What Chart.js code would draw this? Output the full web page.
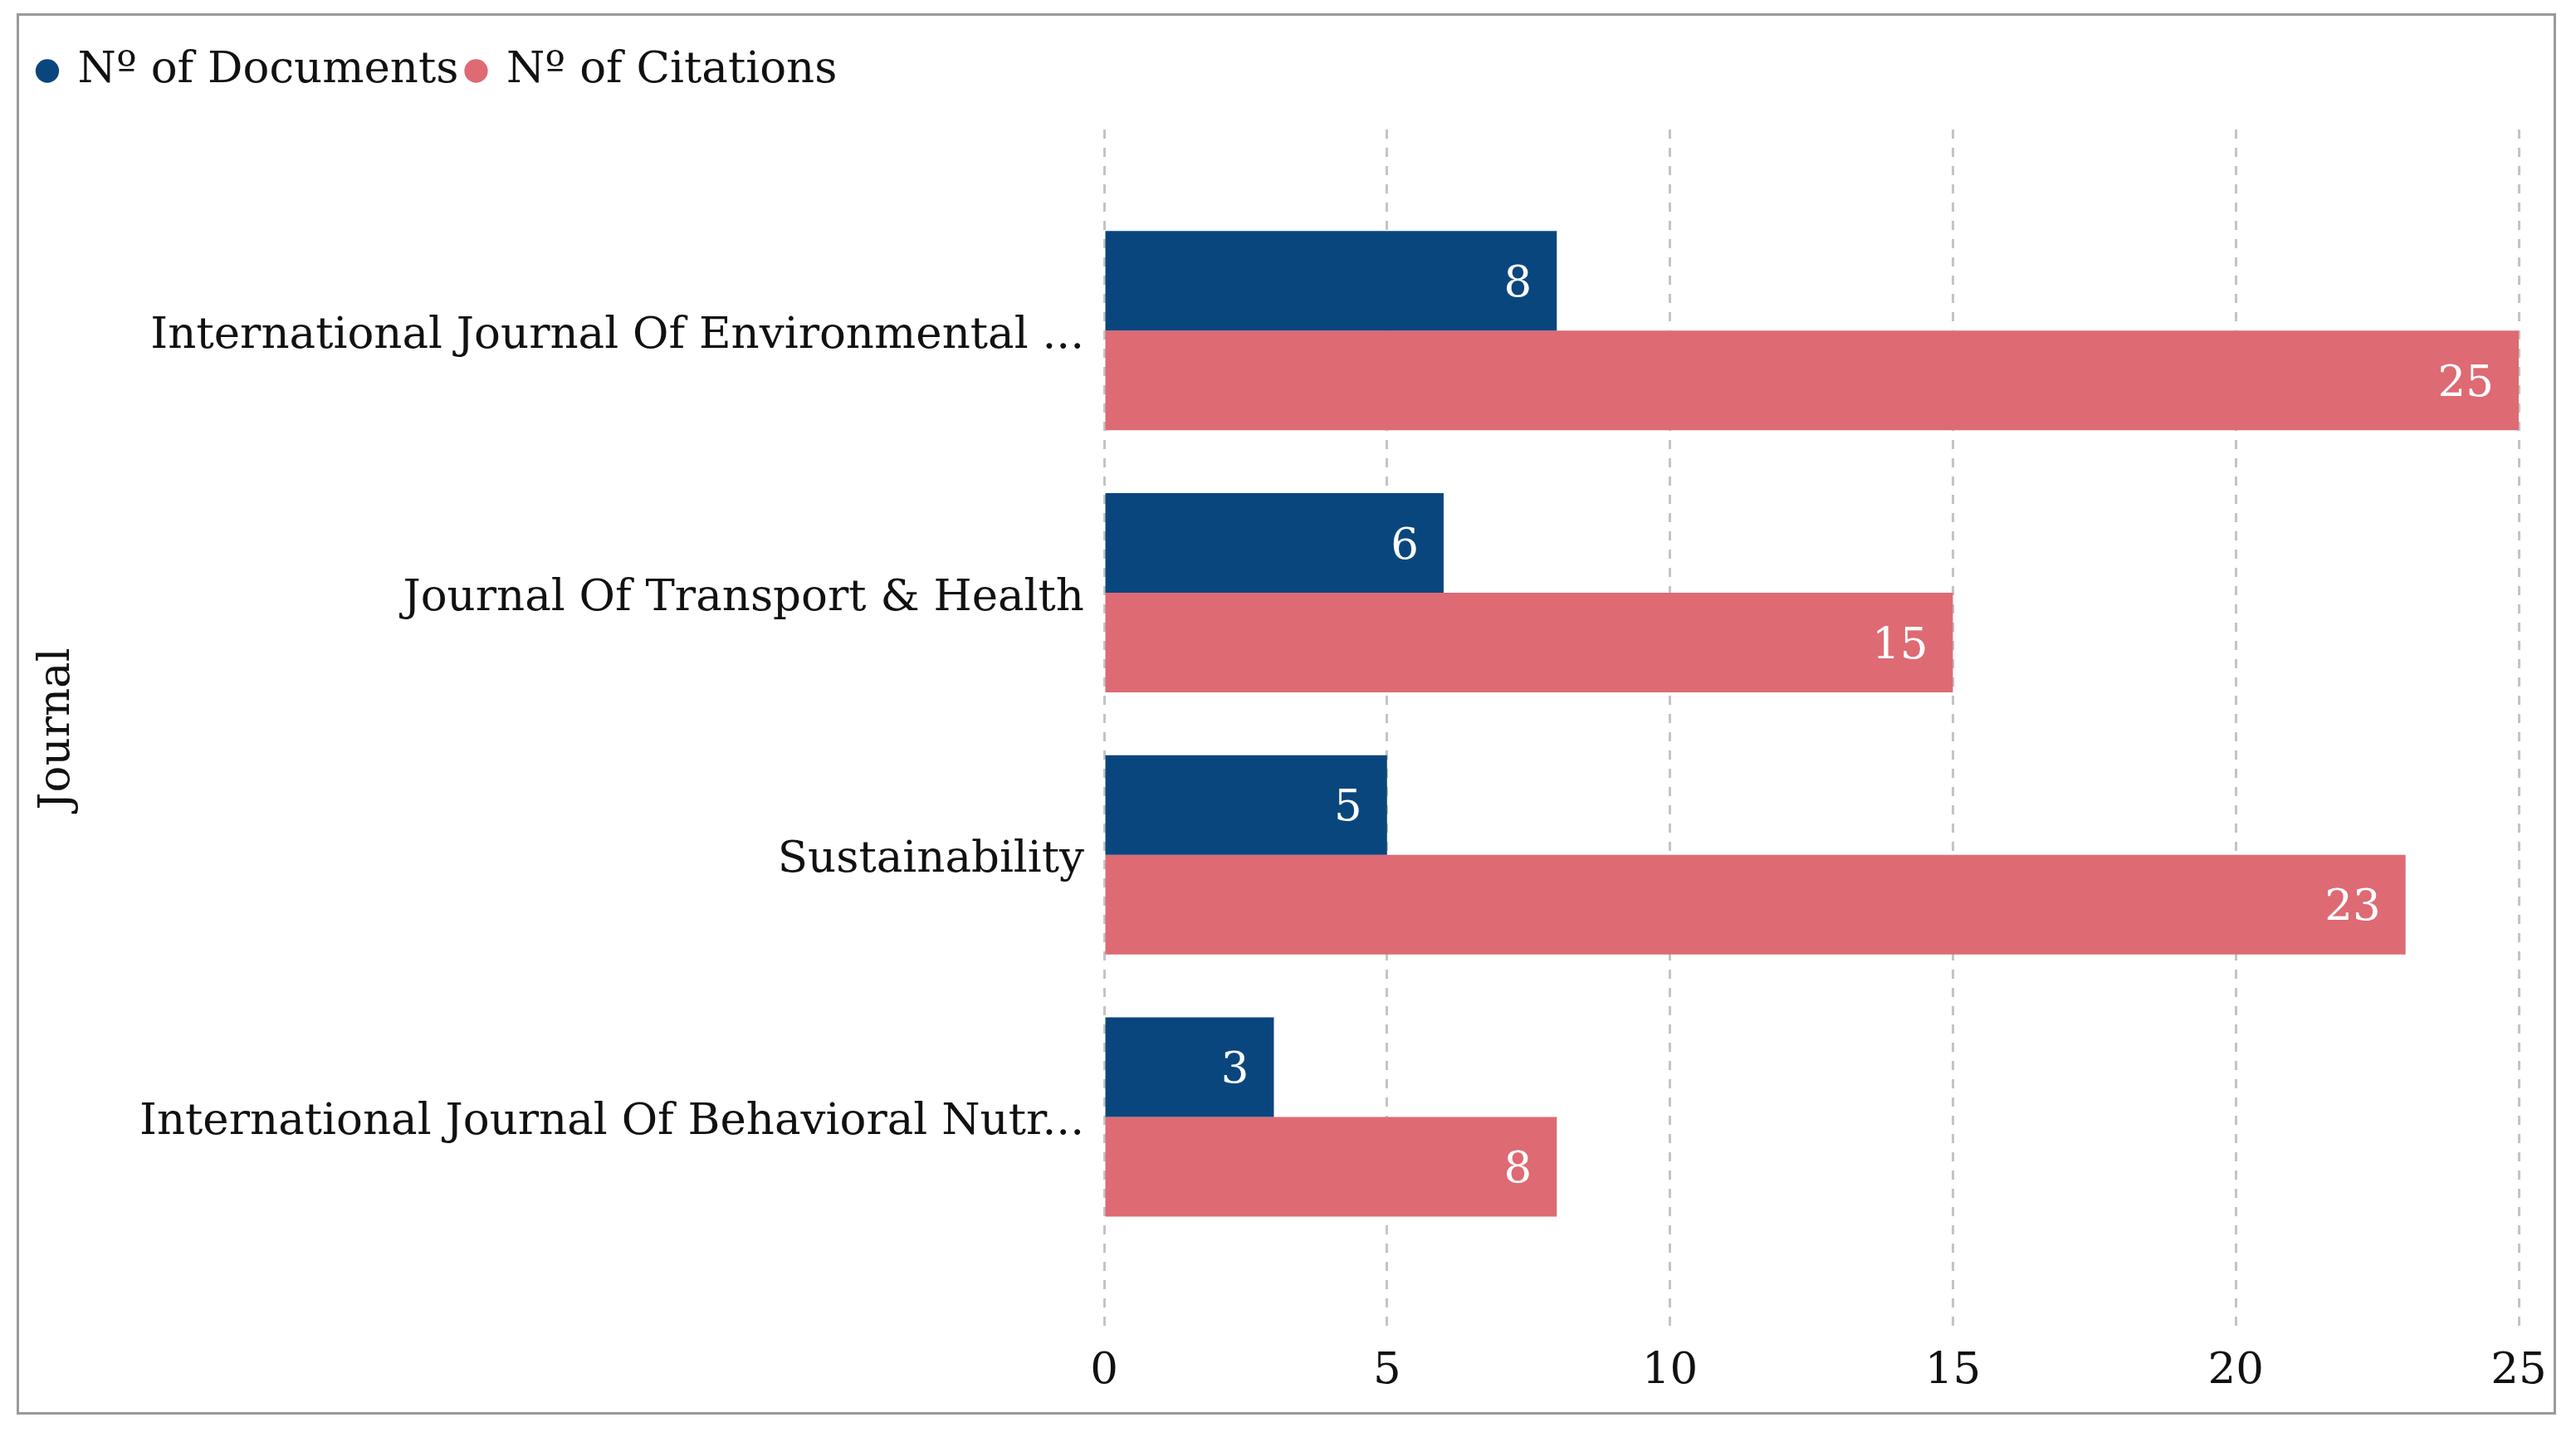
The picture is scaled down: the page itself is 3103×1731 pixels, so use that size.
<!DOCTYPE html>
<html>
<head>
<meta charset="utf-8">
<script src="https://cdn.jsdelivr.net/npm/chart.js@4.4.0/dist/chart.umd.min.js"></script>
<style>
  body { margin: 0; background: #fff; }
  canvas { position: absolute; left: 0; top: 0; }
  #frame { position: absolute; left: 20px; top: 16px; width: 3059px; height: 1688px;
           border: 3px solid #9a9a9a; box-sizing: border-box; pointer-events: none; }
</style>
</head>
<body>
<canvas id="journalChart" width="3103" height="1731"></canvas>
<div id="frame"></div>
<script>
// data
const journals = [
    'International Journal Of Environmental ...',
    'Journal Of Transport & Health',
    'Sustainability',
    'International Journal Of Behavioral Nutr...'
];
const documents = [8, 6, 5, 3];
const citations = [25, 15, 23, 8];
const xMin = 0;
const xMax = 25;
const xStep = 5;

const FONT = "'DejaVu Serif', 'Liberation Serif', serif";
const ctx = document.getElementById('journalChart').getContext('2d');

// push the plot down below the legend
const legendGap = {
    id: 'legendGap',
    beforeInit(chart) {
        const originalFit = chart.legend.fit;
        chart.legend.fit = function fit() {
            originalFit.bind(chart.legend)();
            this.height += 34;
        };
    }
};

// white value labels at the end of each bar
const barValues = {
    id: 'barValues',
    afterDatasetsDraw(chart) {
        const c = chart.ctx;
        c.save();
        c.font = '53px ' + FONT;
        c.fillStyle = '#ffffff';
        c.textAlign = 'right';
        c.textBaseline = 'middle';
        chart.data.datasets.forEach((ds, di) => {
            chart.getDatasetMeta(di).data.forEach((bar, i) => {
                c.fillText(String(ds.data[i].x), bar.x - 30, bar.y + 5);
            });
        });
        c.restore();
    }
};

const journalChart = new Chart(ctx, {
    type: 'bar',
    data: {
        datasets: [{
            label: 'Nº of Documents',
            data: documents.map((v, i) => ({ x: v, y: i })),
            backgroundColor: '#0a467e',
            borderWidth: 0
        }, {
            label: 'Nº of Citations',
            data: citations.map((v, i) => ({ x: v, y: i })),
            backgroundColor: '#de6a73',
            borderWidth: 0
        }]
    },
    options: {
        indexAxis: 'y',
        responsive: false,
        animation: false,
        devicePixelRatio: 1,
        datasets: {
            bar: { categoryPercentage: 0.76, barPercentage: 1 }
        },
        layout: {
            padding: { left: 36, top: 48, right: 69, bottom: 51 }
        },
        plugins: {
            legend: {
                position: 'top',
                align: 'start',
                labels: {
                    usePointStyle: true,
                    pointStyle: 'circle',
                    boxWidth: 20,
                    boxHeight: 20,
                    padding: 11,
                    color: '#111',
                    font: { family: FONT, size: 53 }
                }
            },
            tooltip: { enabled: false }
        },
        scales: {
            x: {
                type: 'linear',
                min: xMin,
                max: xMax,
                ticks: {
                    stepSize: xStep,
                    padding: 20,
                    color: '#111',
                    font: { family: FONT, size: 53 }
                },
                grid: {
                    color: '#c4c4c4',
                    lineWidth: 3,
                    drawTicks: false
                },
                border: { display: false, dash: [11, 11] },
                afterFit(scale) { scale.height = 80; }
            },
            y: {
                type: 'linear',
                reverse: true,
                offset: false,
                min: -0.767,
                max: 3.806,
                afterBuildTicks(scale) {
                    scale.ticks = journals.map((_, i) => ({ value: i }));
                },
                ticks: {
                    padding: 24,
                    labelOffset: 7,
                    color: '#111',
                    font: { family: FONT, size: 53 },
                    callback: (v) => journals[v] !== undefined ? journals[v] : ''
                },
                grid: { display: false, drawTicks: false },
                border: { display: false },
                title: {
                    display: true,
                    text: 'Journal',
                    color: '#111',
                    padding: { top: 1, bottom: 0 },
                    font: { family: FONT, size: 53 }
                },
                afterFit(scale) { scale.width = 1294; }
            }
        }
    },
    plugins: [legendGap, barValues]
});
</script>
</body>
</html>
